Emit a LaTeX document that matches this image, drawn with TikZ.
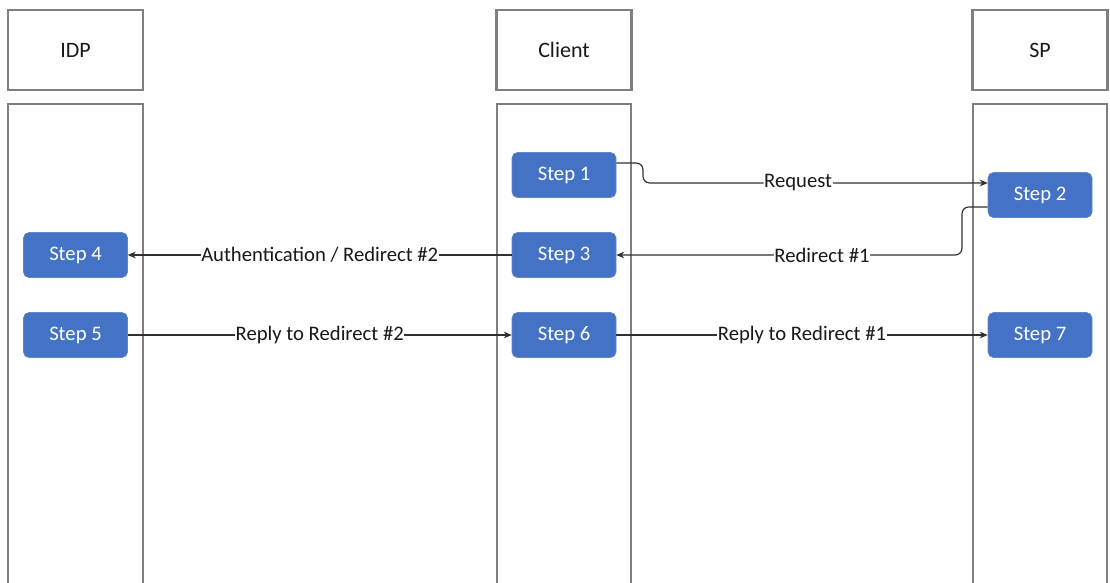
\documentclass[tikz,border=0pt]{standalone}
\usepackage{fontspec}
\setmainfont{Carlito}
\usetikzlibrary{arrows.meta}
\definecolor{stepblue}{HTML}{4472C4}
\definecolor{lanegray}{HTML}{7F7F7F}
\definecolor{linegray}{HTML}{303030}
\begin{document}
\begin{tikzpicture}[x=0.75pt,y=-0.75pt,
  header/.style={draw=lanegray,line width=1.6pt,minimum width=135*0.75pt,minimum height=80*0.75pt,inner sep=0pt,font=\fontsize{16.5}{19}\selectfont,text=black!90},
  lane/.style={draw=lanegray,line width=1.6pt},
  stepbox/.style={fill=stepblue,draw=stepblue!85!white,rounded corners=4pt,minimum width=104*0.75pt,minimum height=45*0.75pt,inner sep=0pt,text=white,font=\fontsize{15.5}{18}\selectfont},
  conn/.style={draw=linegray,line width=0.85pt,-{Stealth[length=6pt,width=5pt]}},
  lbl/.style={fill=white,inner sep=0.5pt,font=\fontsize{15.5}{18}\selectfont,text=black!90}]
\useasboundingbox (0,0) rectangle (1110,582);
% headers
\node[header] (idp) at (75.5,50) {IDP};
\node[header] (client) at (564,50) {Client};
\node[header] (sp) at (1040,50) {SP};
% lanes
\draw[lane] (8,590) -- (8,104) -- (143,104) -- (143,590);
\draw[lane] (497,590) -- (497,104) -- (631,104) -- (631,590);
\draw[lane] (973,590) -- (973,104) -- (1107,104) -- (1107,590);
% steps
\node[stepbox] (s1) at (564,175) {Step 1};
\node[stepbox] (s2) at (1040,195) {Step 2};
\node[stepbox] (s3) at (564,255) {Step 3};
\node[stepbox] (s4) at (75.5,255) {Step 4};
\node[stepbox] (s5) at (75.5,335) {Step 5};
\node[stepbox] (s6) at (564,335) {Step 6};
\node[stepbox] (s7) at (1040,335) {Step 7};
% connectors
\coordinate (r1a) at (643,163);
\coordinate (r1b) at (643,183);
\draw[conn,rounded corners=5pt] (s1.east |- r1a) -- (r1a) -- (r1b) -- (s2.west |- r1b)
  node[lbl,pos=0.45] {Request};
\coordinate (r2a) at (962,207);
\coordinate (r2b) at (962,255);
\draw[conn,rounded corners=5pt] (s2.west |- r2a) -- (r2a) -- (r2b) -- (s3.east)
  node[lbl,pos=0.405] {Redirect \#1};
\draw[conn] (s3.west) -- (s4.east) node[lbl,midway] {Authentication / Redirect \#2};
\draw[conn] (s5.east) -- (s6.west) node[lbl,midway] {Reply to Redirect \#2};
\draw[conn] (s6.east) -- (s7.west) node[lbl,midway] {Reply to Redirect \#1};
\end{tikzpicture}
\end{document}
